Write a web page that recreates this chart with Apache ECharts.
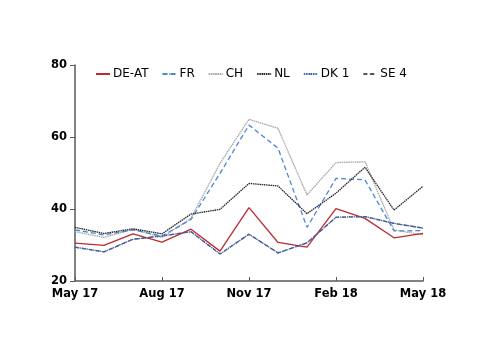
<!DOCTYPE html>
<html>
<head>
<meta charset="utf-8">
<script src="https://cdn.jsdelivr.net/npm/echarts@6/dist/echarts.min.js"></script>
<style>
html,body{margin:0;padding:0;background:#fff;}
#charts{width:500px;height:354px;}
</style>
</head>
<body>
<div id="charts"></div>
<script>
// months, labels shown every 3rd
var months = ['May 17','Jun 17','Jul 17','Aug 17','Sep 17','Oct 17','Nov 17','Dec 17','Jan 18','Feb 18','Mar 18','Apr 18','May 18'];
var deat = [30.5, 29.9, 33.1, 30.8, 34.4, 28.3, 40.4, 30.7, 29.4, 40.1, 37.4, 32.0, 33.2];
var fr   = [34.2, 32.8, 34.2, 32.5, 37.1, 49.9, 63.3, 56.9, 34.9, 48.5, 48.1, 33.9, 34.0];
var ch   = [33.7, 32.1, 34.4, 32.1, 37.4, 52.7, 64.9, 62.4, 43.9, 52.9, 53.1, 34.2, 32.8];
var nl   = [34.9, 33.2, 34.5, 33.1, 38.6, 39.9, 47.1, 46.4, 38.7, 44.4, 51.6, 39.7, 46.3];
var dk1  = [29.4, 28.1, 31.6, 32.5, 33.7, 27.5, 33.0, 27.8, 30.6, 37.7, 37.9, 36.0, 34.7];
var se4  = [29.4, 28.1, 31.6, 32.5, 33.7, 27.5, 33.0, 27.8, 30.6, 37.7, 37.9, 36.0, 34.7];

var charts = echarts.init(document.getElementById('charts'));
var axisColor = '#595959';
function line(name, data, color, type, z){
	return {
		name: name,
		type: 'line',
		data: data,
		symbol: 'none',
		z: z,
		lineStyle: {color: color, width: 1.3, type: type},
		itemStyle: {color: color}
	};
}
var option = {
	animation: false,
	textStyle: {fontFamily: 'DejaVu Sans'},
	legend: {
		top: 63,
		left: 90,
		itemWidth: 14,
		itemHeight: 2,
		itemGap: 13,
		textStyle: {fontSize: 12, color: '#000', padding: [0,0,0,-2]},
		data: ['DE-AT','FR','CH','NL','DK 1','SE 4']
	},
	grid: {left: 75, right: 77, top: 65, bottom: 73},
	xAxis: {
		type: 'category',
		data: months,
		boundaryGap: false,
		axisLine: {lineStyle: {color: axisColor, width: 1.5}},
		axisTick: {inside: true, length: 4, interval: 2, lineStyle: {color: axisColor}},
		axisLabel: {interval: 2, fontWeight: 'bold', fontSize: 11.5, color: '#000', margin: 7}
	},
	yAxis: {
		type: 'value',
		min: 20, max: 80, interval: 20,
		splitLine: {show: false},
		axisLine: {show: true, lineStyle: {color: axisColor, width: 1.5}},
		axisTick: {show: true, length: 5, lineStyle: {color: axisColor}},
		axisLabel: {fontWeight: 'bold', fontSize: 11.5, color: '#000', margin: 8}
	},
	series: [
		line('DE-AT', deat, '#be2b2e', 'solid', 4),
		line('FR', fr, '#4a86d6', [5, 3], 4),
		line('CH', ch, '#a6a6a6', [1.5, 0.7], 3),
		line('NL', nl, '#262626', [1.5, 0.7], 4),
		line('DK 1', dk1, '#3a62b4', [1.5, 0.8], 5),
		line('SE 4', se4, '#555555', [4, 3], 2)
	]
};
charts.setOption(option);
</script>
</body>
</html>
